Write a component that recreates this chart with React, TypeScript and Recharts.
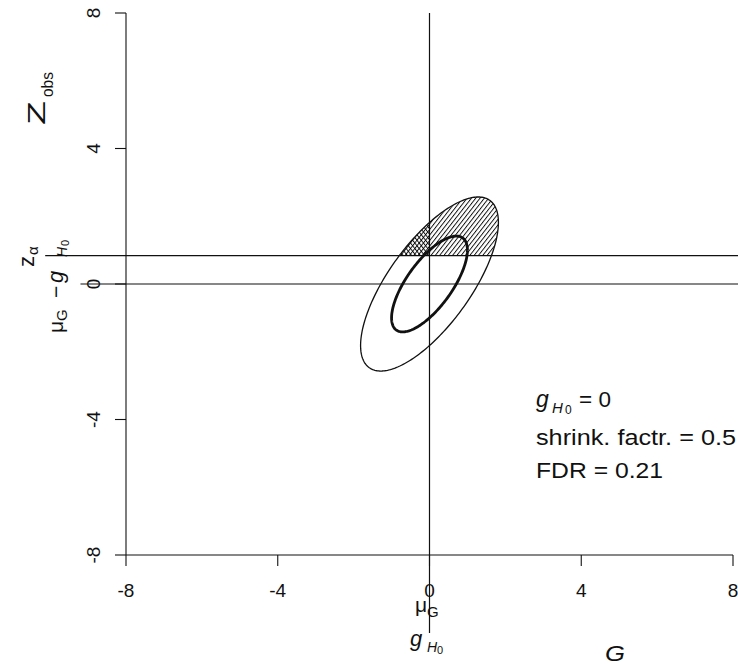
import React from 'react';
import { ComposedChart, XAxis, YAxis, Scatter, ReferenceLine } from 'recharts';

// Axis layout
const xTicks = [-8, -4, 0, 4, 8];
const yTicks = [-8, -4, 0, 4, 8];
const axisDomain: [number, number] = [-8, 8];

// Joint normal model of the true effect G and the observed statistic Z_obs
const meanVector = [0, 0];
const covariance = [
  [1, 1],
  [1, 2],
];
// Squared Mahalanobis radius of each contour: bold inner, thin outer
const contourLevels = [1.0, 3.3];

// Rejection threshold and null value
const zAlpha = 0.84;
const gH0 = 0;
const shrinkFactor = 0.5;
const fdr = 0.21;

const FONT = '"Liberation Sans", Arial, Helvetica, sans-serif';
const INK = '#111';

type P = { x: number; y: number };

// Points on the contour x' S^-1 x = level, via the Cholesky factor of S
function contour(level: number, n = 240): P[] {
  const l11 = Math.sqrt(covariance[0][0]);
  const l21 = covariance[0][1] / l11;
  const l22 = Math.sqrt(covariance[1][1] - l21 * l21);
  const r = Math.sqrt(level);
  const pts: P[] = [];
  for (let i = 0; i < n; i++) {
    const t = (2 * Math.PI * i) / n;
    const u = r * Math.cos(t);
    const v = r * Math.sin(t);
    pts.push({ x: meanVector[0] + l11 * u, y: meanVector[1] + l21 * u + l22 * v });
  }
  return pts;
}

// Sutherland-Hodgman clip of a polygon against one half-plane
function clip(poly: P[], inside: (p: P) => boolean, cut: (a: P, b: P) => P): P[] {
  const out: P[] = [];
  for (let i = 0; i < poly.length; i++) {
    const cur = poly[i];
    const prev = poly[(i + poly.length - 1) % poly.length];
    const ci = inside(cur);
    const pi = inside(prev);
    if (ci) {
      if (!pi) out.push(cut(prev, cur));
      out.push(cur);
    } else if (pi) {
      out.push(cut(prev, cur));
    }
  }
  return out;
}

const cutAtY = (level: number) => (a: P, b: P): P => {
  const t = (level - a.y) / (b.y - a.y);
  return { x: a.x + t * (b.x - a.x), y: level };
};
const cutAtX = (level: number) => (a: P, b: P): P => {
  const t = (level - a.x) / (b.x - a.x);
  return { x: level, y: a.y + t * (b.y - a.y) };
};

const closeRing = (pts: P[]) => [...pts, pts[0]];

const innerRing = contour(contourLevels[0]);
const outerRing = contour(contourLevels[1]);
// Rejected region: Z_obs above z_alpha
const rejectCap = clip(outerRing, (p) => p.y >= zAlpha, cutAtY(zAlpha));
// False discoveries: rejected while G is below g_H0
const falseCap = clip(rejectCap, (p) => p.x <= gH0, cutAtX(gH0));

const innerData = closeRing(innerRing);
const outerData = closeRing(outerRing);
const capData = closeRing(rejectCap);
const falseData = closeRing(falseCap);

const NoMarker = () => <g />;

const XTick = (props: any) => {
  const { x, y, payload } = props;
  return (
    <text x={x} y={y + 29} textAnchor="middle" fontSize={19} fontFamily={FONT} fill={INK}>
      {String(payload.value)}
    </text>
  );
};

const YTick = (props: any) => {
  const { x, y, payload } = props;
  const bx = x - 13.5;
  return (
    <text
      x={bx}
      y={y}
      transform={`rotate(-90, ${bx}, ${y})`}
      textAnchor="middle"
      fontSize={19}
      fontFamily={FONT}
      fill={INK}
    >
      {String(payload.value)}
    </text>
  );
};

type TProps = {
  x: number;
  y: number;
  size: number;
  italic?: boolean;
  len?: number;
  children: React.ReactNode;
};

const HText = ({ x, y, size, italic, len, children }: TProps) => (
  <text
    x={x}
    y={y}
    fontSize={size}
    fontStyle={italic ? 'italic' : 'normal'}
    fontFamily={FONT}
    fill={INK}
    textLength={len}
    lengthAdjust={len ? 'spacingAndGlyphs' : undefined}
  >
    {children}
  </text>
);

// Text running bottom-to-top; (x, y) is the start of its baseline
const VText = ({ x, y, size, italic, len, children }: TProps) => (
  <text
    transform={`translate(${x},${y}) rotate(-90)`}
    fontSize={size}
    fontStyle={italic ? 'italic' : 'normal'}
    fontFamily={FONT}
    fill={INK}
    textLength={len}
    lengthAdjust={len ? 'spacingAndGlyphs' : undefined}
  >
    {children}
  </text>
);

export default function App() {
  return (
    <>
      <style>{'html, body { margin: 0; padding: 0; overflow: hidden; background: #fff; }'}</style>
      <ComposedChart
        width={738}
        height={666}
        margin={{ top: 13, right: 5, bottom: 0, left: 0 }}
        style={{ background: '#fff' }}
      >
        <defs>
          <pattern id="hatchFwd" width="3.4" height="3.4" patternUnits="userSpaceOnUse" patternTransform="rotate(38)">
            <line x1="0.5" y1="0" x2="0.5" y2="3.4" stroke="#000" strokeWidth="0.9" />
          </pattern>
          <pattern id="hatchBack" width="3.4" height="3.4" patternUnits="userSpaceOnUse" patternTransform="rotate(-38)">
            <line x1="0.5" y1="0" x2="0.5" y2="3.4" stroke="#000" strokeWidth="0.9" />
          </pattern>
        </defs>

        <XAxis
          dataKey="x"
          type="number"
          domain={axisDomain}
          ticks={xTicks}
          allowDataOverflow
          height={111}
          tickSize={11}
          tickMargin={2}
          tick={<XTick />}
          axisLine={{ stroke: INK, strokeWidth: 1.1 }}
          tickLine={{ stroke: INK, strokeWidth: 1.1 }}
        />
        <YAxis
          dataKey="y"
          type="number"
          domain={axisDomain}
          ticks={yTicks}
          allowDataOverflow
          width={126}
          tickSize={11}
          tickMargin={2}
          tick={<YTick />}
          axisLine={{ stroke: INK, strokeWidth: 1.1 }}
          tickLine={{ stroke: INK, strokeWidth: 1.1 }}
        />

        <Scatter
          data={capData}
          shape={NoMarker}
          line={{ fill: 'url(#hatchFwd)', stroke: 'none' }}
          lineJointType="linear"
          isAnimationActive={false}
        />
        <Scatter
          data={falseData}
          shape={NoMarker}
          line={{ fill: 'url(#hatchBack)', stroke: 'none' }}
          lineJointType="linear"
          isAnimationActive={false}
        />
        <Scatter
          data={outerData}
          shape={NoMarker}
          line={{ fill: 'none', stroke: INK, strokeWidth: 1.3 }}
          lineJointType="linear"
          isAnimationActive={false}
        />
        <Scatter
          data={innerData}
          shape={NoMarker}
          line={{ fill: 'none', stroke: INK, strokeWidth: 2.8 }}
          lineJointType="linear"
          isAnimationActive={false}
        />

        <ReferenceLine
          segment={[{ x: -10.13, y: zAlpha }, { x: 8.3, y: zAlpha }]}
          ifOverflow="visible"
          stroke={INK}
          strokeWidth={1.2}
        />
        <ReferenceLine
          segment={[{ x: -9.2, y: 0 }, { x: 8.3, y: 0 }]}
          ifOverflow="visible"
          stroke={INK}
          strokeWidth={1.2}
        />
        <ReferenceLine
          segment={[{ x: gH0, y: 8 }, { x: gH0, y: -10.3 }]}
          ifOverflow="visible"
          stroke={INK}
          strokeWidth={1.2}
        />

        <g>
          {/* model summary */}
          <HText x={536} y={407} size={23} italic>g</HText>
          <HText x={552} y={413} size={15} italic>H</HText>
          <HText x={565} y={414} size={12}>0</HText>
          <HText x={579} y={407} size={22.5}>{`= ${gH0}`}</HText>
          <HText x={536} y={445} size={22.5} len={200}>{`shrink. factr. = ${shrinkFactor}`}</HText>
          <HText x={536} y={478} size={22.5} len={127}>{`FDR = ${fdr}`}</HText>

          {/* x-axis labels */}
          <HText x={415} y={612} size={21}>μ</HText>
          <HText x={427} y={617} size={15}>G</HText>
          <HText x={410} y={646} size={22} italic>g</HText>
          <HText x={427} y={652} size={14} italic>H</HText>
          <HText x={437} y={654} size={11}>0</HText>
          <HText x={605} y={661} size={22.5} italic len={20}>G</HText>

          {/* y-axis labels */}
          <VText x={45} y={125} size={24} len={24}>Z</VText>
          <VText x={53} y={97} size={16} len={25}>obs</VText>
          <VText x={34} y={267} size={22}>z</VText>
          <VText x={38} y={255} size={15}>α</VText>
          <VText x={63} y={333} size={21}>μ</VText>
          <VText x={67} y={321} size={15}>G</VText>
          <VText x={63} y={298} size={21}>−</VText>
          <VText x={63} y={283} size={22} italic>g</VText>
          <VText x={67} y={257} size={14} italic>H</VText>
          <VText x={69} y={246} size={11}>0</VText>
        </g>
      </ComposedChart>
    </>
  );
}
